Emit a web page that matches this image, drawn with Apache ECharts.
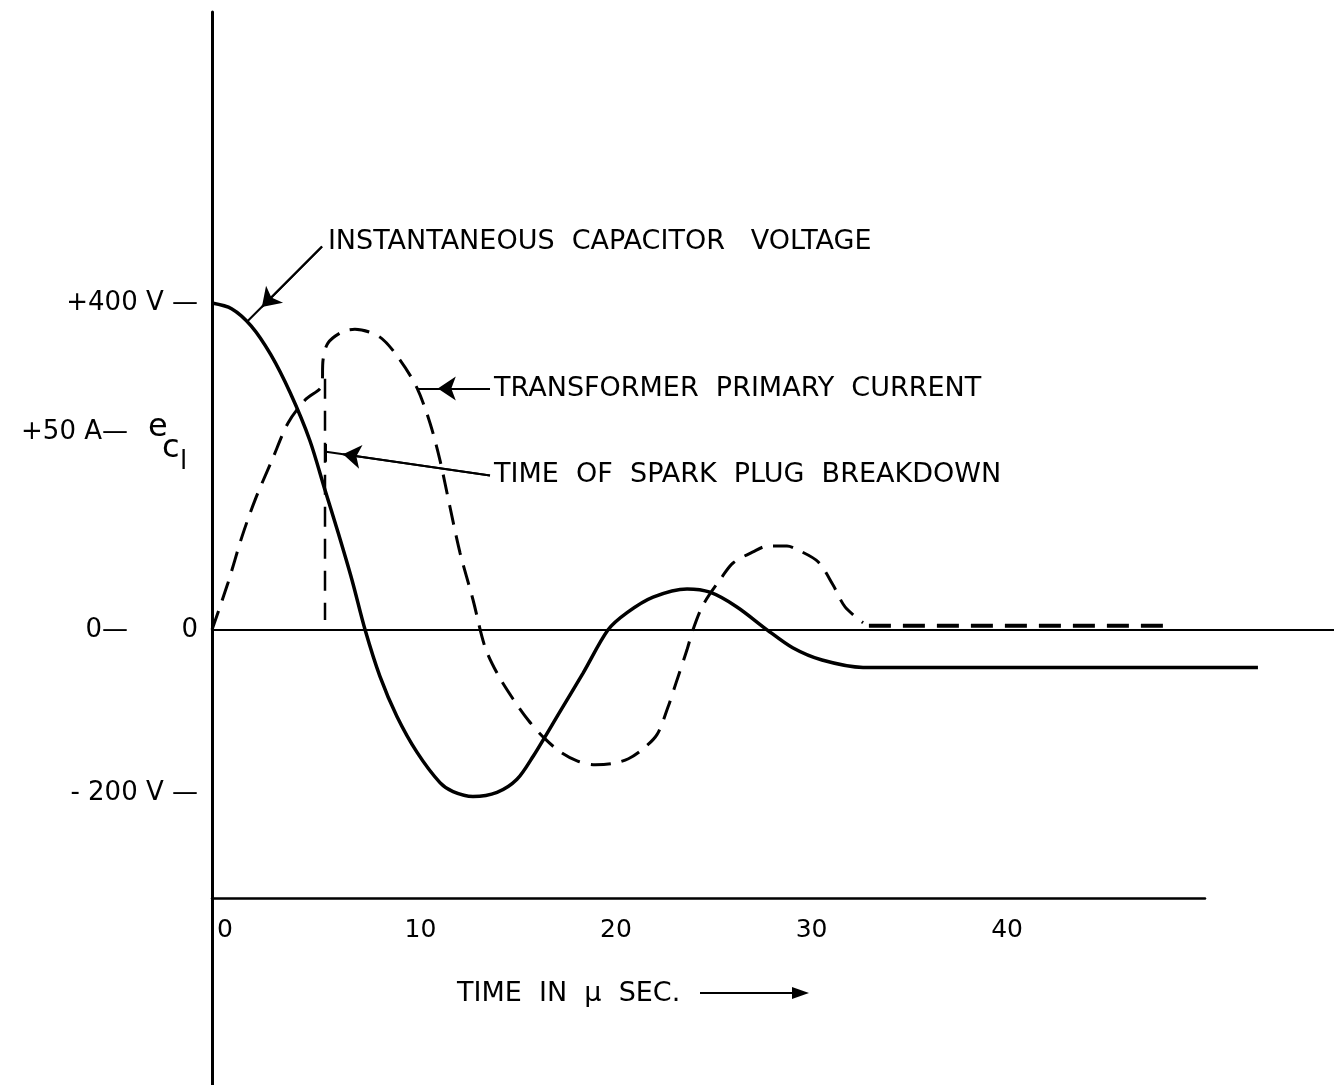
<!DOCTYPE html>
<html>
<head>
<meta charset="utf-8">
<script src="https://cdn.jsdelivr.net/npm/echarts@6/dist/echarts.min.js"></script>
<style>
html,body{margin:0;padding:0;background:#fff;}
#chart{width:1334px;height:1085px;}
</style>
</head>
<body>
<div id="chart"></div>
<script>
// ---- data (time in microseconds) ----
const voltTime = [0,1.0,2.0,3.0,4.0,5.0,5.78,6.45,7.16,7.83,8.59,9.46,10.49,11.66,12.33,13.35,14.58,15.60,16.42,17.80,18.98,20.26,21.23,22.56,24.30,25.47,26.85,28.39,29.70,31.20,33.30,53.5];
const voltValues = [400,393,372,337,290,232,171,119,61,0,-57,-106,-150,-187,-198,-204,-199,-183,-155,-100,-53,0,21,40,50,46,28,0,-22,-37,-46,-46];

const curTime = [0,0.82,1.53,2.20,3.07,3.89,4.76,5.63,5.68,5.93,6.65,7.31,8.59,9.62,10.49,11.15,11.66,12.17,12.69,13.35,13.96,14.63,15.40,16.20,17.00,17.80,18.70,19.60,20.50,21.30,22.00,22.76,23.32,23.79,24.30,24.60,25.12,26.09,26.65,27.67,28.44,29.41,29.97,31.00,31.76,32.38,33.30];
const curAmps = [0,11.9,23.5,32.8,42.9,52.3,58.1,61.9,68.2,72.5,75.3,76.0,74.0,68.2,61.1,52.3,42.9,31.1,19.4,7.6,-4.3,-11.4,-17.5,-23.0,-27.4,-30.8,-33.2,-34.1,-33.8,-32.6,-30.3,-26.5,-19.6,-12.6,-5.0,0,6.3,13.4,16.9,19.7,21.2,21.2,20.2,17.2,11.4,5.8,1.8];

const flatTime = [33.6, 48.9];
const flatAmps = [1.0, 1.0];

const sparkTime = [5.78, 5.78];
const sparkAmps = [63.5, 2.5];

const xTickLabels = ['0','10','20','30','40'];
const voltTicks = [400, 0, -200];
const voltTickLabels = ['+400 V —', '0', '- 200 V —'];
const ampTicks = [50, 0];
const ampTickLabels = ['+50 A—', '0—'];

// axis ranges
const V_MIN = -557, V_MAX = 756;          // volts
const V_PER_A = 242 / 50;                 // +50 A sits level with ~242 V
const T_MAX_PLOT = 57.39, T_MAX_AXIS = 50.79;

const FONT = '"DejaVu Sans", sans-serif';
const zip = (a, b) => a.map((v, i) => [v, b[i]]);

const chart = echarts.init(document.getElementById('chart'), null, {renderer: 'canvas'});

const txt = (size) => ({color: '#000', fontSize: size, fontFamily: FONT});
const plainLine = {color: '#000', width: 2, type: 'solid'};

const option = {
  animation: false,
  backgroundColor: '#fff',
  grid: [
    {left: 212, right: 0, top: 12, bottom: 0, containLabel: false},
    {left: 212, right: 129, top: 897, height: 1, containLabel: false}
  ],
  xAxis: [
    {
      type: 'value', gridIndex: 0, min: 0, max: T_MAX_PLOT,
      axisLine: {show: true, onZero: true, lineStyle: {color: '#000', width: 2}},
      axisTick: {show: false}, axisLabel: {show: false}, splitLine: {show: false}
    },
    {
      type: 'value', gridIndex: 1, min: 0, max: T_MAX_AXIS, interval: 10,
      axisLine: {show: true, lineStyle: {color: '#000', width: 2.5}},
      axisTick: {show: false}, splitLine: {show: false},
      axisLabel: {
        show: true, margin: 20, padding: [0, 0, 0, 26], ...txt(25),
        formatter: (v) => { const i = Math.round(v / 10); return xTickLabels[i] !== undefined ? xTickLabels[i] : ''; }
      }
    }
  ],
  yAxis: [
    {
      type: 'value', gridIndex: 0, min: V_MIN, max: V_MAX,
      axisLine: {show: true, lineStyle: {color: '#000', width: 3}},
      axisTick: {show: false}, splitLine: {show: false},
      axisLabel: {
        show: true, margin: 14, customValues: voltTicks, ...txt(26),
        formatter: (v) => voltTickLabels[voltTicks.indexOf(v)] || ''
      }
    },
    {
      type: 'value', gridIndex: 0, position: 'left', offset: 78,
      min: V_MIN / V_PER_A, max: V_MAX / V_PER_A,
      axisLine: {show: false}, axisTick: {show: false}, splitLine: {show: false},
      axisLabel: {
        show: true, margin: 6, customValues: ampTicks, ...txt(26),
        formatter: (v) => ampTickLabels[ampTicks.indexOf(v)] || ''
      }
    },
    {
      type: 'value', gridIndex: 1, show: false, min: 0, max: 1
    }
  ],
  series: [
    {
      name: 'Instantaneous capacitor voltage', type: 'line',
      xAxisIndex: 0, yAxisIndex: 0,
      data: zip(voltTime, voltValues),
      smooth: 0.3, showSymbol: false, silent: true,
      lineStyle: {color: '#000', width: 3.5, type: 'solid'},
      markLine: {
        silent: true, symbol: ['none', 'none'], symbolSize: 18,
        lineStyle: plainLine, label: {show: false},
        data: [
          [{coord: [5.63, 469]}, {coord: [1.79, 377]}],
          [{coord: [5.63, 469], symbol: 'none'}, {coord: [2.55, 395], symbol: 'arrow', symbolSize: 18}]
        ]
      },
      markPoint: {
        silent: true, symbol: 'circle', symbolSize: 1,
        itemStyle: {color: 'rgba(0,0,0,0)'},
        label: {show: true, position: 'right', distance: 2, formatter: '{b}', ...txt(27)},
        data: [{name: 'INSTANTANEOUS  CAPACITOR   VOLTAGE', coord: [5.80, 474]}]
      }
    },
    {
      name: 'Transformer primary current', type: 'line',
      xAxisIndex: 0, yAxisIndex: 1,
      data: zip(curTime, curAmps),
      smooth: 0.3, showSymbol: false, silent: true,
      lineStyle: {color: '#000', width: 3, type: [20, 11]},
      markLine: {
        silent: true, symbol: ['none', 'none'], symbolSize: 18,
        lineStyle: plainLine, label: {show: false},
        data: [
          [{coord: [14.22, 61.0]}, {coord: [10.49, 61.0]}],
          [{coord: [14.22, 61.0], symbol: 'none'}, {coord: [11.55, 61.0], symbol: 'arrow', symbolSize: 18}],
          [{coord: [14.22, 39.0]}, {coord: [5.83, 45.0]}],
          [{coord: [14.22, 39.0], symbol: 'none'}, {coord: [6.70, 44.4], symbol: 'arrow', symbolSize: 18}],
          [{coord: [5.83, 42.5]}, {coord: [5.83, 47.0]}]
        ]
      },
      markPoint: {
        silent: true, symbol: 'circle', symbolSize: 1,
        itemStyle: {color: 'rgba(0,0,0,0)'},
        label: {show: true, position: 'right', distance: 2, formatter: '{b}', ...txt(27)},
        data: [
          {name: 'TRANSFORMER  PRIMARY  CURRENT', coord: [14.30, 61.0]},
          {name: 'TIME  OF  SPARK  PLUG  BREAKDOWN', coord: [14.30, 39.2]}
        ]
      }
    },
    {
      name: 'Transformer primary current (after)', type: 'line',
      xAxisIndex: 0, yAxisIndex: 1,
      data: zip(flatTime, flatAmps),
      showSymbol: false, silent: true,
      lineStyle: {color: '#000', width: 4, type: [22, 12]}
    },
    {
      name: 'Spark breakdown time', type: 'line',
      xAxisIndex: 0, yAxisIndex: 1,
      data: zip(sparkTime, sparkAmps),
      showSymbol: false, silent: true,
      lineStyle: {color: '#000', width: 2.5, type: [20, 12]}
    }
  ],
  graphic: [
    {type: 'text', x: 148, y: 428, style: {text: 'e', fill: '#000', font: '32px ' + FONT, align: 'left', verticalAlign: 'middle'}},
    {type: 'text', x: 162, y: 449, style: {text: 'c', fill: '#000', font: '32px ' + FONT, align: 'left', verticalAlign: 'middle'}},
    {type: 'text', x: 180, y: 462, style: {text: 'l', fill: '#000', font: '26px ' + FONT, align: 'left', verticalAlign: 'middle'}},
    {type: 'text', x: 457, y: 994, style: {text: 'TIME  IN  μ  SEC.', fill: '#000', font: '27px ' + FONT, align: 'left', verticalAlign: 'middle'}},
    {type: 'line', shape: {x1: 700, y1: 993, x2: 800, y2: 993}, style: {stroke: '#000', lineWidth: 2}},
    {type: 'polygon', shape: {points: [[792, 987], [809, 993], [792, 999]]}, style: {fill: '#000'}}
  ]
};

chart.setOption(option);
</script>
</body>
</html>
